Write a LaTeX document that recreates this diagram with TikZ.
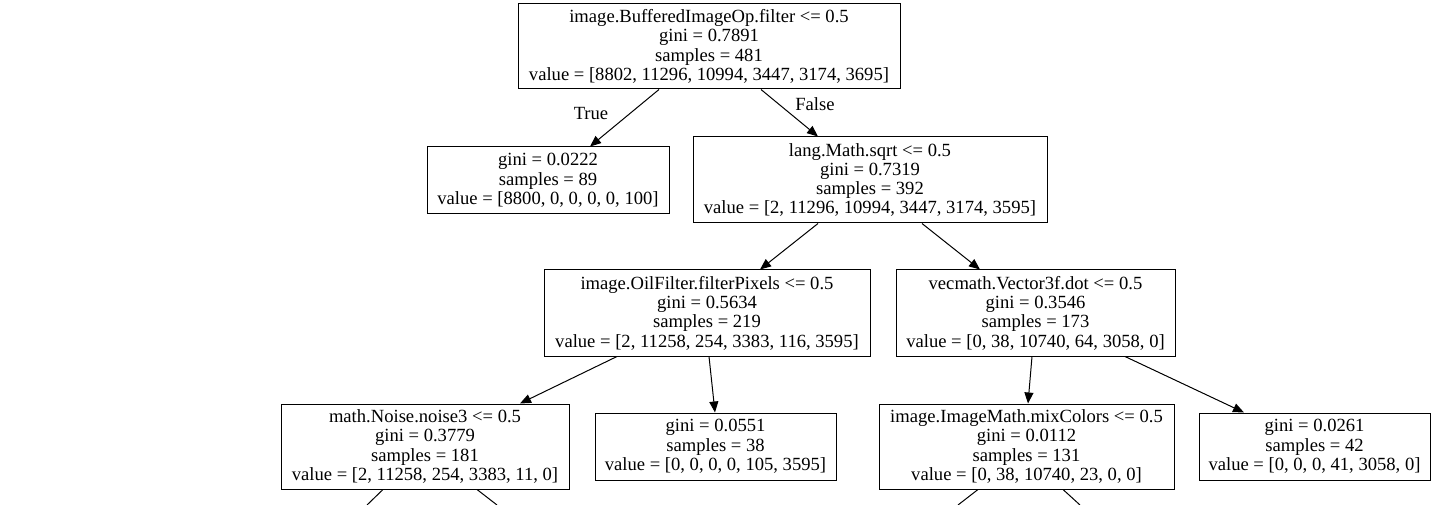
\documentclass[tikz,border=0pt]{standalone}
\usepackage{fontspec}
\setmainfont{Liberation Serif}
\usetikzlibrary{arrows.meta}
\begin{document}
\begin{tikzpicture}[x=1pt,y=-1pt,
  txt/.style={font=\fontsize{18.6}{19.3}\selectfont},
  box/.style={txt,draw,line width=1pt,rectangle,align=center,inner sep=0pt},
  edge/.style={line width=1pt,-{Triangle[length=11pt,width=9pt]}},
  cut/.style={line width=1pt}]
\useasboundingbox (0,0) rectangle (1436,505);
\node[box,minimum width=382pt,minimum height=85pt] (root) at (709,46.5)
  {image.BufferedImageOp.filter <= 0.5\\gini = 0.7891\\samples = 481\\value = [8802, 11296, 10994, 3447, 3174, 3695]};
\node[box,minimum width=242pt,minimum height=67pt] (leaf1) at (548,180.5)
  {gini = 0.0222\\samples = 89\\value = [8800, 0, 0, 0, 0, 100]};
\node[box,minimum width=354pt,minimum height=86pt] (n2) at (870,180)
  {lang.Math.sqrt <= 0.5\\gini = 0.7319\\samples = 392\\value = [2, 11296, 10994, 3447, 3174, 3595]};
\node[box,minimum width=326pt,minimum height=86pt] (n3) at (707,313)
  {image.OilFilter.filterPixels <= 0.5\\gini = 0.5634\\samples = 219\\value = [2, 11258, 254, 3383, 116, 3595]};
\node[box,minimum width=279pt,minimum height=86pt] (n4) at (1035.5,313)
  {vecmath.Vector3f.dot <= 0.5\\gini = 0.3546\\samples = 173\\value = [0, 38, 10740, 64, 3058, 0]};
\node[box,minimum width=288pt,minimum height=85pt] (n5) at (425,446.5)
  {math.Noise.noise3 <= 0.5\\gini = 0.3779\\samples = 181\\value = [2, 11258, 254, 3383, 11, 0]};
\node[box,minimum width=241pt,minimum height=67pt] (leaf6) at (715.5,446.5)
  {gini = 0.0551\\samples = 38\\value = [0, 0, 0, 0, 105, 3595]};
\node[box,minimum width=295pt,minimum height=85pt] (n7) at (1026.5,446.5)
  {image.ImageMath.mixColors <= 0.5\\gini = 0.0112\\samples = 131\\value = [0, 38, 10740, 23, 0, 0]};
\node[box,minimum width=231pt,minimum height=67pt] (leaf8) at (1314.5,446.5)
  {gini = 0.0261\\samples = 42\\value = [0, 0, 0, 41, 3058, 0]};
\node[txt] (lt) at (591,114) {True};
\node[txt] (lf) at (815,104) {False};
\coordinate (c1) at (367,505);
\coordinate (c2) at (497,505);
\coordinate (c3) at (958,505);
\coordinate (c4) at (1080,505);
\draw[edge] ([xshift=-50pt]root.south) -- ([xshift=42pt]leaf1.north);
\draw[edge] ([xshift=52pt]root.south) -- ([xshift=-52pt]n2.north);
\draw[edge] ([xshift=-52pt]n2.south) -- ([xshift=53pt]n3.north);
\draw[edge] ([xshift=52pt]n2.south) -- ([xshift=-55.5pt]n4.north);
\draw[edge] ([xshift=-90pt]n3.south) -- ([xshift=95pt]n5.north);
\draw[edge] ([xshift=2pt]n3.south) -- ([xshift=-0.5pt]leaf6.north);
\draw[edge] ([xshift=-3.5pt]n4.south) -- ([xshift=1.5pt]n7.north);
\draw[edge] ([xshift=89.5pt]n4.south) -- ([xshift=-70.5pt]leaf8.north);
\draw[cut] ([xshift=-42pt]n5.south) -- (c1);
\draw[cut] ([xshift=52pt]n5.south) -- (c2);
\draw[cut] ([xshift=-48.5pt]n7.south) -- (c3);
\draw[cut] ([xshift=36.5pt]n7.south) -- (c4);
\end{tikzpicture}
\end{document}
